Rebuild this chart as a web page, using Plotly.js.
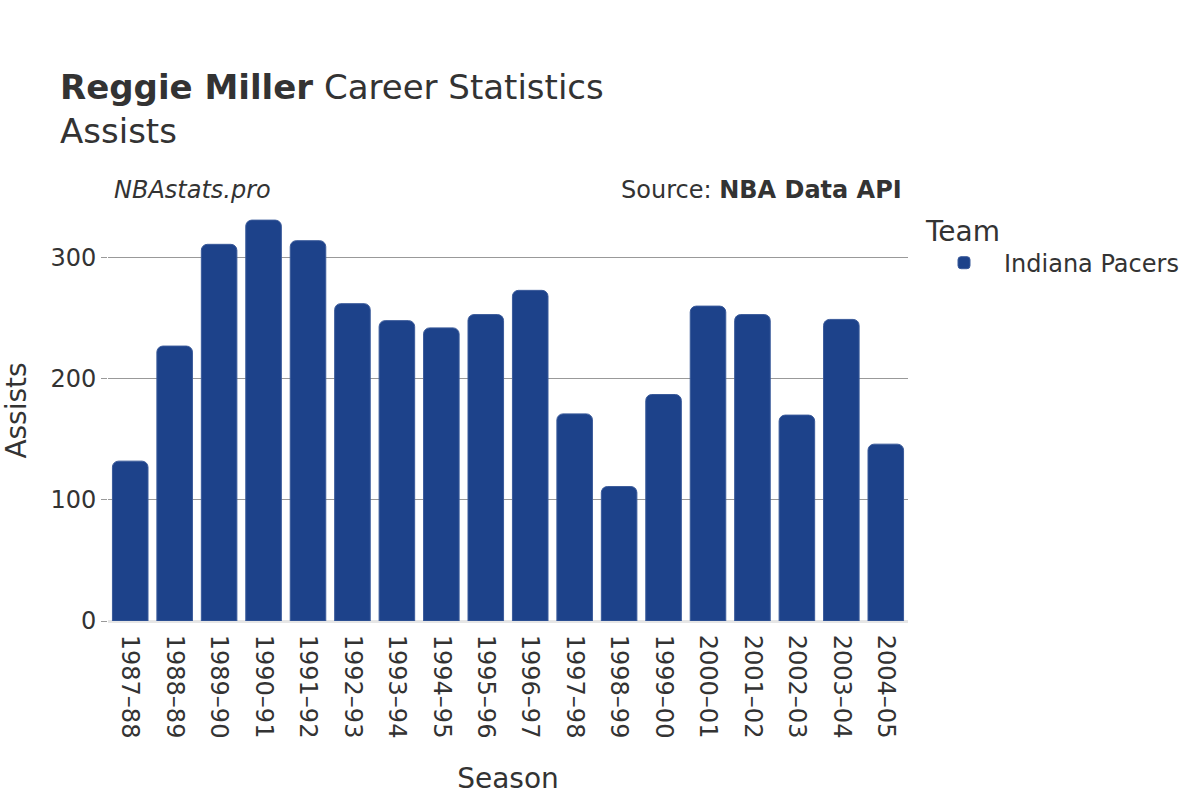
<!DOCTYPE html>
<html>
<head>
<meta charset="utf-8">
<script src="https://cdn.plot.ly/plotly-3.0.1.min.js"></script>
<style>body{margin:0;padding:0;}#chart{width:1200px;height:800px;}</style>
</head>
<body>
<div id="chart"></div>
<script>
const seasons = ["1987–88","1988–89","1989–90","1990–91","1991–92","1992–93","1993–94","1994–95","1995–96","1996–97","1997–98","1998–99","1999–00","2000–01","2001–02","2002–03","2003–04","2004–05"];
const assists = [132,227,311,331,314,262,248,242,253,273,171,111,187,260,253,170,249,146];
const teamName = "Indiana Pacers";

const font = "DejaVu Sans, sans-serif";
const trace = {
  type: "bar",
  x: seasons,
  y: assists,
  name: teamName,
  marker: {color: "#1d428a", cornerradius: 6, line: {color: "#3a5a9a", width: 1}},
  hoverinfo: "x+y"
};

const layout = {
  width: 1200, height: 800,
  paper_bgcolor: "#ffffff", plot_bgcolor: "#ffffff",
  font: {family: font, color: "#333333", size: 24},
  margin: {l: 108, r: 292, t: 200, b: 179},
  bargap: 0.2,
  title: {
    text: "<b>Reggie Miller</b> Career Statistics<br>Assists",
    font: {family: font, size: 34, color: "#333333"},
    x: 0.05, xanchor: "left", y: 0.876, yanchor: "top"
  },
  xaxis: {
    type: "category",
    tickangle: 90,
    tickfont: {size: 24, color: "#333333"},
    title: {text: "Season", font: {size: 28, color: "#333333"}, standoff: 30},
    showgrid: false, showline: false,
    ticks: "outside", ticklen: 8, tickcolor: "rgba(0,0,0,0)"
  },
  yaxis: {
    range: [0, 347.6],
    tickvals: [0, 100, 200, 300],
    tickfont: {size: 24, color: "#333333"},
    title: {text: "Assists", font: {size: 28, color: "#333333"}, standoff: 24},
    showgrid: true, gridcolor: "#999999", gridwidth: 1,
    zeroline: true, zerolinecolor: "#e6e6e6", zerolinewidth: 3,
    ticks: "outside", ticklen: 6, tickcolor: "#999999"
  },
  showlegend: true,
  legend: {
    x: 1.02, xanchor: "left", y: 0.99, yanchor: "top",
    itemwidth: 70,
    title: {text: "Team", font: {size: 28, color: "#333333"}},
    font: {size: 24, color: "#333333"}
  },
  annotations: [
    {text: "<i>NBAstats.pro</i>", xref: "paper", yref: "paper", x: 0.005, y: 1.0, xanchor: "left", yanchor: "bottom", yshift: -6, showarrow: false, font: {size: 24, color: "#333333"}},
    {text: "Source: <b>NBA Data API</b>", xref: "paper", yref: "paper", x: 0.995, y: 1.0, xanchor: "right", yanchor: "bottom", yshift: -6, showarrow: false, font: {size: 24, color: "#333333"}}
  ]
};

Plotly.newPlot("chart", [trace], layout, {displayModeBar: false, staticPlot: true});
</script>
</body>
</html>
